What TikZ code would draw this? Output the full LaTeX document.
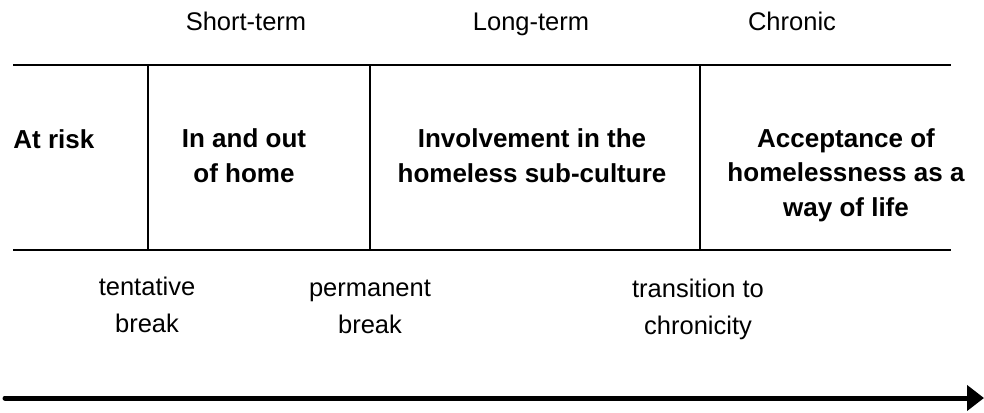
\documentclass[tikz,border=0pt]{standalone}
\usepackage{fontspec}
\setmainfont{Liberation Sans}
\usetikzlibrary{arrows.meta}
\tikzset{
	rule/.style={line width=1pt, color=black},
	phase/.style={font=\fontsize{12.75}{18.25}\selectfont, align=center, anchor=base, inner sep=0pt},
	stage/.style={font=\bfseries\fontsize{13}{17.25}\selectfont, align=center, anchor=base, inner sep=0pt},
	timeline/.style={line width=2.5pt, line cap=round, -{Triangle[length=8.5pt,width=12.5pt]}}
}

\begin{document}
\begin{tikzpicture}[x=0.5pt, y=-0.5pt]
			%%%%% START %%%%%
			\useasboundingbox (0, 0) rectangle (984, 412);
			
			\node[phase] (short) at (246, 30) {Short-term};
			\node[phase] (long) at (531, 30) {Long-term};
			\node[phase] (chronic) at (792, 30) {Chronic};
			
			\draw[rule] (13, 65) -- (951, 65);
			\draw[rule] (13, 250) -- (951, 250);
			\foreach \x in {148, 370, 700}
				\draw[rule] (\x, 65) -- (\x, 250);
			
			% base anchor sits on the last line
			\node[stage, anchor=base west] (risk) at (13, 148) {At risk};
			\node[stage] (inout) at (244, 182) {In and out\\of home};
			\node[stage] (involve) at (532, 182) {Involvement in the\\homeless sub-culture};
			\node[stage] (accept) at (846, 216) {Acceptance of\\homelessness as a\\way of life};
			
			\node[phase] (tentative) at (147, 332) {tentative\\break};
			\node[phase] (permanent) at (370, 333) {permanent\\break};
			\node[phase] (transition) at (698, 334) {transition to\\chronicity};
			
			\coordinate (start) at (5, 398);
			\coordinate (end) at (984, 398);
			\draw[timeline] (start) -- (end);
			%%%%% END %%%%%
\end{tikzpicture}
\end{document}
